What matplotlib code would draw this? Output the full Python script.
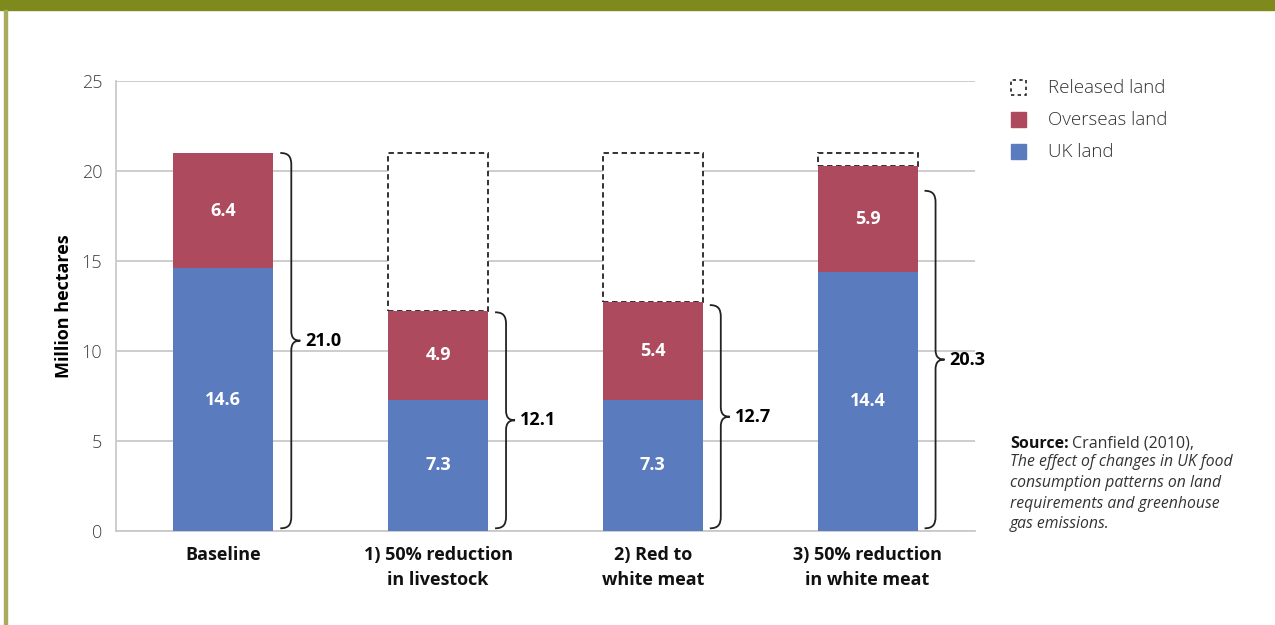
import matplotlib
matplotlib.use("Agg")
import matplotlib.pyplot as plt
from matplotlib.patches import Rectangle, PathPatch
from matplotlib.path import Path

plt.rcParams["font.family"] = ["Open Sans", "DejaVu Sans"]

categories = ["Baseline", "1) 50% reduction\nin livestock", "2) Red to\nwhite meat",
              "3) 50% reduction\nin white meat"]
uk_land = [14.6, 7.3, 7.3, 14.4]
overseas_land = [6.4, 4.9, 5.4, 5.9]
released_land = [0.0, 8.8, 8.3, 0.7]
total_labels = ["21.0", "12.1", "12.7", "20.3"]
brace_spans = [(0.15, 21.0), (0.15, 12.15), (0.15, 12.55), (0.15, 18.9)]
yticks = [0, 5, 10, 15, 20, 25]
legend_labels = ["Released land", "Overseas land", "UK land"]

BLUE = "#5a7bbd"
RED = "#ae4a5e"
GRID = "#c9c9c9"
W, H = 1275, 625

fig = plt.figure(figsize=(W / 100, H / 100), dpi=100)
# frame: olive top band + thin left rule
fig.patches.append(Rectangle((0, 1 - 10 / H), 1, 10 / H, transform=fig.transFigure,
                             color="#7f8a1c", zorder=0))
fig.patches.append(Rectangle((4 / W, 0), 2.5 / W, 1 - 10 / H, transform=fig.transFigure,
                             color="#a8ac5c", zorder=0))

ax = fig.add_axes([116 / W, 1 - 531 / H, (975 - 116) / W, (531 - 81) / H])
x = list(range(len(categories)))
bw = 100 / 215
ax.bar(x, uk_land, bw, color=BLUE, zorder=3)
ax.bar(x, overseas_land, bw, bottom=uk_land, color=RED, zorder=3)
tops = [u + o for u, o in zip(uk_land, overseas_land)]
rel_x = [i for i in x if released_land[i] > 0]
ax.bar(rel_x, [released_land[i] for i in rel_x], bw, bottom=[tops[i] for i in rel_x],
       facecolor="white", edgecolor="#222222", linestyle=(0, (3, 2)), linewidth=1.3,
       zorder=2)

for i in x:
    ax.text(i, uk_land[i] / 2, f"{uk_land[i]:.1f}", ha="center", va="center",
            color="white", fontsize=13, fontweight="bold", zorder=4)
    ax.text(i, uk_land[i] + overseas_land[i] / 2, f"{overseas_land[i]:.1f}", ha="center",
            va="center", color="white", fontsize=13, fontweight="bold", zorder=4)

ax.set_xlim(-0.5, 3.5)
ax.set_ylim(0, 25)

# curly braces to the right of each bar
px = 1 / 215.0
py = 25 / 450.0


def brace(xr, y0, y1):
    x0, x1, x2 = xr + 7 * px, xr + 18 * px, xr + 27 * px
    ym = (y0 + y1) / 2
    r = 12 * py
    rm = 10 * py
    verts = [(x0, y1),
             (x0 + (x1 - x0) * 0.75, y1), (x1, y1 - r * 0.3), (x1, y1 - r),
             (x1, ym + rm),
             (x1, ym + rm * 0.3), (x1 + (x2 - x1) * 0.3, ym), (x2, ym),
             (x1 + (x2 - x1) * 0.3, ym), (x1, ym - rm * 0.3), (x1, ym - rm),
             (x1, y0 + r),
             (x1, y0 + r * 0.3), (x0 + (x1 - x0) * 0.75, y0), (x0, y0)]
    codes = [Path.MOVETO] + [Path.CURVE4] * 3 + [Path.LINETO] + [Path.CURVE4] * 6 + \
            [Path.LINETO] + [Path.CURVE4] * 3
    ax.add_patch(PathPatch(Path(verts, codes), fill=False, edgecolor="#222222",
                           linewidth=1.3, zorder=4, clip_on=False))
    return x2, ym


for i in x:
    y0, y1 = brace_spans[i]
    xt, ym = brace(i + bw / 2, y0, y1)
    ax.text(xt + 5 * px, ym, total_labels[i], ha="left", va="center", fontsize=13,
            fontweight="bold", color="black")

ax.set_yticks(yticks)
ax.set_yticklabels([str(t) for t in yticks], fontsize=13, color="#404040",
                   fontweight="light")
ax.yaxis.grid(True, color=GRID, linewidth=1.3, zorder=0)
ax.set_axisbelow(True)
ax.set_xticks(x)
ax.set_xticklabels(categories, fontsize=13, fontweight="bold", color="#111111",
                   linespacing=1.45)
ax.tick_params(axis="both", length=0)
ax.tick_params(axis="y", pad=10)
ax.tick_params(axis="x", pad=11)
for s in ["top", "right"]:
    ax.spines[s].set_visible(False)
for s in ["left", "bottom"]:
    ax.spines[s].set_color(GRID)
    ax.spines[s].set_linewidth(1.3)
ax.set_ylabel("Million hectares", fontsize=13, fontweight="bold", labelpad=6)

# legend drawn by hand
leg_styles = [dict(facecolor="white", edgecolor="#222222", linestyle=(0, (2, 2)), linewidth=1.2),
              dict(facecolor=RED, edgecolor=RED),
              dict(facecolor=BLUE, edgecolor=BLUE)]
for k, (lab, st) in enumerate(zip(legend_labels, leg_styles)):
    yc = 87 + 32 * k
    fig.patches.append(Rectangle((1011 / W, 1 - (yc + 8) / H), 15 / W, 15 / H,
                                 transform=fig.transFigure, **st))
    fig.text(1048 / W, 1 - (yc + 1) / H, lab, fontsize=13.5, color="#333333",
             va="center", fontweight="light")

# source note
t = fig.text(1010 / W, 1 - 444 / H, "Source:", fontsize=11.5, fontweight="bold",
             va="center", color="#111111")
fig.canvas.draw()
bb = t.get_window_extent()
fig.text(bb.x1 / W + 3 / W, 1 - 444 / H, "Cranfield (2010),", fontsize=11.5,
         va="center", color="#333333")
fig.text(1010 / W, 1 - 454 / H,
         "The effect of changes in UK food\nconsumption patterns on land\n"
         "requirements and greenhouse\ngas emissions.",
         fontsize=11.3, style="italic", va="top", color="#333333", linespacing=1.4)

fig.savefig("out.png", dpi=100)
